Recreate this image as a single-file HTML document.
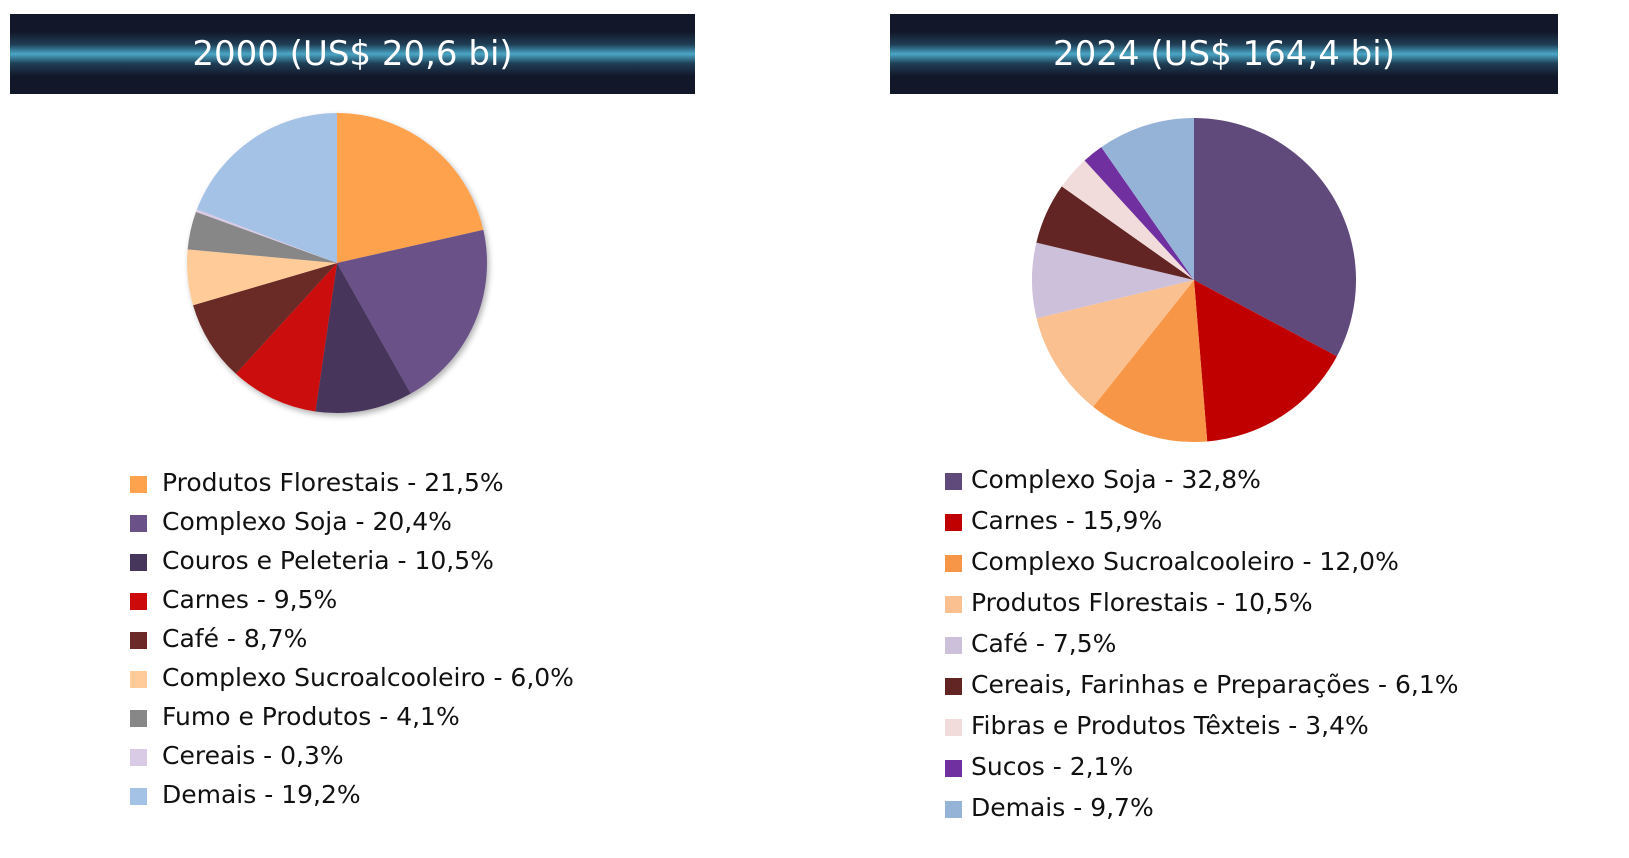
<!DOCTYPE html>
<html><head><meta charset="utf-8"><style>
body{margin:0;background:#fff;width:1629px;height:858px;overflow:hidden;position:relative;font-family:"DejaVu Sans","Liberation Sans",sans-serif;}
.hdr{position:absolute;top:14px;height:80px;background:linear-gradient(#121729 0%,#121729 22%,#1f3e55 38%,#4aa6c6 50%,#1f3e55 62%,#121729 78%,#121729 100%);color:#fff;font-size:34px;text-align:center;line-height:80px;}
.leg{position:absolute;font-size:25px;color:#111;}
.row{position:absolute;white-space:nowrap;}
.sq{position:absolute;width:17px;height:17px;}
</style></head><body>
<div class="hdr" style="left:10px;width:685px;">2000 (US$ 20,6 bi)</div>
<div class="hdr" style="left:890px;width:668px;">2024 (US$ 164,4 bi)</div>
<svg width="1629" height="858" style="position:absolute;left:0;top:0">
<defs><filter id="sh" x="-10%" y="-10%" width="130%" height="130%"><feDropShadow dx="2" dy="3" stdDeviation="3" flood-opacity="0.3"/></filter></defs>
<g id="pieA" filter="url(#sh)"></g><g id="pieB"></g></svg>
<div id="legA" class="leg"></div><div id="legB" class="leg"></div>
<script>
const labelsA=["Produtos Florestais","Complexo Soja","Couros e Peleteria","Carnes","Café","Complexo Sucroalcooleiro","Fumo e Produtos","Cereais","Demais"];
const valuesA=[21.5,20.4,10.5,9.5,8.7,6.0,4.1,0.3,19.2];
const colorsA=["#ffa24e","#6a5187","#47365b","#cc0a0a","#6b2a28","#ffcc99","#878787","#d9cbe6","#a4c1e6"];
const labelsB=["Complexo Soja","Carnes","Complexo Sucroalcooleiro","Produtos Florestais","Café","Cereais, Farinhas e Preparações","Fibras e Produtos Têxteis","Sucos","Demais"];
const valuesB=[32.8,15.9,12.0,10.5,7.5,6.1,3.4,2.1,9.7];
const colorsB=["#604a7b","#c00000","#f79646","#fac090","#ccc0da","#632523","#f2dcdb","#7030a0","#95b3d7"];
const NS="http://www.w3.org/2000/svg";
function pie(gid,vals,cols,cx,cy,r,name){
  const g=document.getElementById(gid);const tot=vals.reduce((a,b)=>a+b,0);let a=0;
  vals.forEach((v,i)=>{const a0=a/tot*2*Math.PI;a+=v;const a1=a/tot*2*Math.PI;
    const x0=cx+r*Math.sin(a0),y0=cy-r*Math.cos(a0),x1=cx+r*Math.sin(a1),y1=cy-r*Math.cos(a1);
    const p=document.createElementNS(NS,"path");
    p.setAttribute("d",`M${cx},${cy}L${x0},${y0}A${r},${r} 0 ${a1-a0>Math.PI?1:0} 1 ${x1},${y1}Z`);
    p.setAttribute("fill",cols[i]);
    
    
    g.appendChild(p);});
}
function legend(id,labels,vals,cols,sx,tx,y0,dy,name){
  const d=document.getElementById(id);
  labels.forEach((l,i)=>{const y=y0+i*dy;
    const s=document.createElement("div");s.className="sq";s.style.left=sx+"px";s.style.top=(y-8)+"px";s.style.background=cols[i];
    
    
    const t=document.createElement("div");t.className="row";t.style.left=tx+"px";t.style.top=(y-16)+"px";
    t.textContent=l+" - "+vals[i].toFixed(1).replace(".",",")+"%";
    
    
    d.appendChild(s);d.appendChild(t);});
}
pie("pieA",valuesA,colorsA,337,263,150,"pie-2000");
pie("pieB",valuesB,colorsB,1194,280,162,"pie-2024");
legend("legA",labelsA,valuesA,colorsA,130,162,484,39,"legend-2000");
legend("legB",labelsB,valuesB,colorsB,945,971,481,41,"legend-2024");
</script>
</body></html>
